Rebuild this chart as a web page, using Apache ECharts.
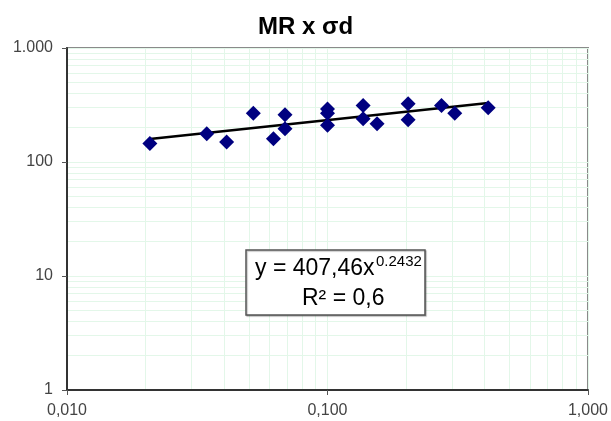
<!DOCTYPE html>
<html>
<head>
<meta charset="utf-8">
<script src="https://cdn.jsdelivr.net/npm/echarts@6/dist/echarts.min.js"></script>
<style>html,body{margin:0;padding:0;background:#fff;}#c{width:611px;height:421px;}</style>
</head>
<body>
<div id="c"></div>
<script>
// Data (x = σd, y = MR)
const xValues = [0.0208, 0.0344, 0.0410, 0.0519, 0.0620, 0.0687, 0.0687, 0.100, 0.100, 0.100, 0.137, 0.137, 0.155, 0.204, 0.204, 0.274, 0.308, 0.414];
const yValues = [145, 177, 150, 268, 160, 260, 196, 292, 268, 210, 313, 240, 217, 324, 235, 313, 268, 299];
// Power trendline endpoints (y = 407,46x^0,2432)
const trendX = [0.0208, 0.414];
const trendY = [159, 329];
// Tick labels
const xTickLabels = ['0,010', '0,100', '1,000'];
const yTickLabels = ['1', '10', '100', '1.000'];
// Minor gridline positions
const xMinor = [0.02,0.03,0.04,0.05,0.06,0.07,0.08,0.09,0.2,0.3,0.4,0.5,0.6,0.7,0.8,0.9];
const yMinor = [2,3,4,5,6,7,8,9,20,30,40,50,60,70,80,90,200,300,400,500,600,700,800,900];

const FONT = "'Liberation Sans', Arial, sans-serif";
const GRID_COLOR = '#e3f7e9';

const chart = echarts.init(document.getElementById('c'), null, {renderer: 'canvas'});

const points = xValues.map((x, i) => [x, yValues[i]]);
const trend = trendX.map((x, i) => [x, trendY[i]]);
const minorLines = xMinor.map(v => ({xAxis: v})).concat(yMinor.map(v => ({yAxis: v})));

chart.setOption({
  animation: false,
  backgroundColor: '#fff',
  title: {
    text: 'MR x σd',
    left: 'center',
    top: 10,
    textStyle: {fontFamily: FONT, fontSize: 24, fontWeight: 'bold', color: '#000'}
  },
  grid: {
    left: 67, right: 23, top: 48, bottom: 31,
    show: true, borderColor: '#8a8a8a', borderWidth: 2, backgroundColor: 'transparent'
  },
  xAxis: {
    type: 'log', logBase: 10, min: 0.01, max: 1,
    axisLine: {show: true, onZero: false, lineStyle: {color: '#333', width: 2}},
    axisTick: {show: true, length: 5, lineStyle: {color: '#555'}},
    splitLine: {show: true, lineStyle: {color: GRID_COLOR, width: 1}},
    axisLabel: {
      fontFamily: FONT, fontSize: 16, color: '#444', margin: 13,
      formatter: (v, i) => xTickLabels[i]
    }
  },
  yAxis: {
    type: 'log', logBase: 10, min: 1, max: 1000,
    axisLine: {show: true, onZero: false, lineStyle: {color: '#333', width: 2}},
    axisTick: {show: true, length: 5, lineStyle: {color: '#555'}},
    splitLine: {show: true, lineStyle: {color: GRID_COLOR, width: 1}},
    axisLabel: {
      fontFamily: FONT, fontSize: 16, color: '#444', margin: 14,
      formatter: (v, i) => yTickLabels[i]
    }
  },
  series: [
    {
      type: 'line', data: [], z: 1, silent: true,
      markLine: {
        z: 0, silent: true, symbol: 'none', animation: false,
        label: {show: false},
        lineStyle: {color: GRID_COLOR, width: 1, type: 'solid'},
        emphasis: {disabled: true},
        data: minorLines
      }
    },
    {
      type: 'line', data: trend, z: 3, symbol: 'none', silent: true,
      lineStyle: {color: '#000', width: 2.5}
    },
    {
      type: 'scatter', data: points, z: 4,
      symbol: 'diamond', symbolSize: [15, 15],
      itemStyle: {color: '#000080', opacity: 1}
    }
  ],
  graphic: [
    {
      type: 'rect', z: 10,
      shape: {x: 246, y: 250, width: 179, height: 65},
      style: {fill: '#fff', stroke: '#555', lineWidth: 1.5, shadowColor: 'rgba(0,0,0,0.25)', shadowOffsetX: 1, shadowOffsetY: 1, shadowBlur: 1}
    },
    {
      type: 'text', z: 11, left: 255, top: 257,
      style: {text: 'y = 407,46x', font: '23px ' + FONT, fill: '#000'}
    },
    {
      type: 'text', z: 11, left: 376, top: 254,
      style: {text: '0.2432', font: '15px ' + FONT, fill: '#000'}
    },
    {
      type: 'text', z: 11, left: 302, top: 287,
      style: {text: 'R² = 0,6', font: '23px ' + FONT, fill: '#000'}
    }
  ]
});
</script>
</body>
</html>
